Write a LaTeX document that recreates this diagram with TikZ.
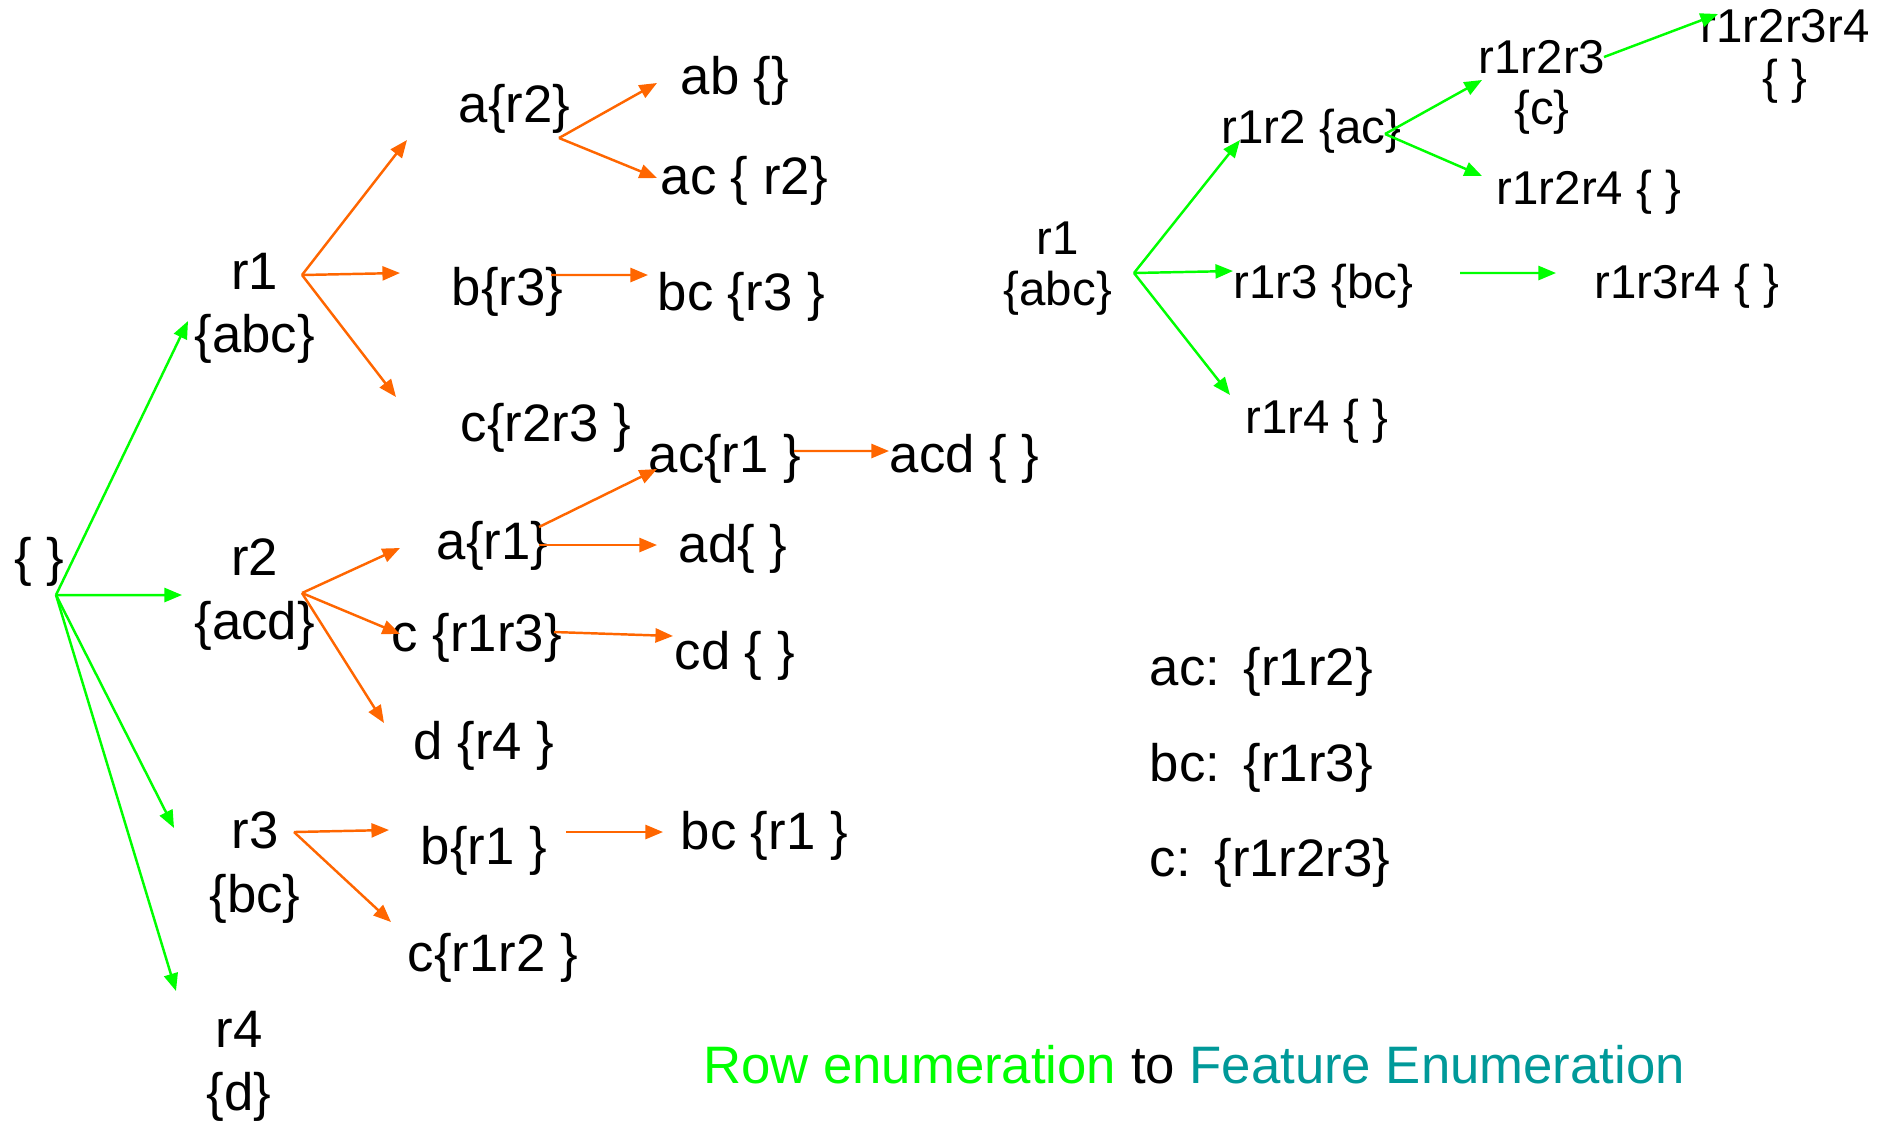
\documentclass[tikz,border=0pt]{standalone}
\usepackage{fontspec}
\setmainfont{Liberation Sans}
\usepackage{xcolor}
\usepackage{tikz}
\usetikzlibrary{arrows.meta}
\definecolor{rowgreen}{HTML}{00FF00}
\definecolor{featorange}{HTML}{FF6600}
\definecolor{featteal}{HTML}{009999}

\begin{document}
\begin{tikzpicture}[
  lset/.style={
    anchor=west,
    inner sep=0pt,
    yshift=-0.035cm,
    align=center,
    font=\fontsize{15}{18}\selectfont
  },
  rset/.style={
    lset,
    font=\fontsize{13.5}{16.5}\selectfont
  },
  garrow/.style={
    -{Triangle[length=5pt,width=4pt]},
    line width=0.7pt,
    draw=rowgreen
  },
  oarrow/.style={
    -{Triangle[length=5pt,width=4pt]},
    line width=0.7pt,
    draw=featorange
  }
]
\useasboundingbox (0,0) rectangle (18.77,-11.22);

% Row enumeration tree on the left
\node[lset] (root) at (0.14,-5.58) {\{ \}};
\node[lset] (lr1) at (1.94,-3.05) {r1\\\{abc\}};
\node[lset] (lr2) at (1.94,-5.91) {r2\\\{acd\}};
\node[lset] (lr3) at (2.09,-8.64) {r3\\\{bc\}};
\node[lset] (lr4) at (2.06,-10.63) {r4\\\{d\}};

% Feature sets under r1
\node[lset] (ar2) at (4.58,-1.05) {a\{r2\}};
\node[lset] (br3) at (4.51,-2.88) {b\{r3\}};
\node[lset] (cr23) at (4.60,-4.24) {c\{r2r3 \}};
\node[lset] (ab) at (6.80,-0.77) {ab \{\}};
\node[lset] (acr2) at (6.60,-1.77) {ac \{ r2\}};
\node[lset] (bcr3) at (6.57,-2.93) {bc \{r3 \}};

% Feature sets under r2
\node[lset] (ar1) at (4.36,-5.42) {a\{r1\}};
\node[lset] (cr13) at (3.91,-6.34) {c \{r1r3\}};
\node[lset] (dr4) at (4.13,-7.42) {d \{r4 \}};
\node[lset] (acr1) at (6.48,-4.55) {ac\{r1 \}};
\node[lset] (acd) at (8.89,-4.55) {acd \{ \}};
\node[lset] (ad) at (6.78,-5.45) {ad\{ \}};
\node[lset] (cd) at (6.74,-6.52) {cd \{ \}};

% Feature sets under r3
\node[lset] (br1) at (4.20,-8.47) {b\{r1 \}};
\node[lset] (cr12) at (4.07,-9.54) {c\{r1r2 \}};
\node[lset] (bcr1) at (6.80,-8.32) {bc \{r1 \}};

% Fan points
\coordinate (f0) at (0.56,-5.95);
\coordinate (f1) at (3.02,-2.75);
\coordinate (fa2) at (5.59,-1.38);
\coordinate (fb3) at (5.51,-2.75);
\coordinate (f2) at (3.02,-5.93);
\coordinate (fa1a) at (5.39,-5.27);
\coordinate (fa1b) at (5.39,-5.45);
\coordinate (fac1) at (7.94,-4.51);
\coordinate (fc13) at (5.54,-6.32);
\coordinate (f3) at (2.94,-8.32);
\coordinate (fb1) at (5.66,-8.32);

% Green row arrows
\draw[garrow] (f0) -- ([shift={(-0.06,-0.125)}]lr1.west);
\draw[garrow] (f0) -- ([shift={(-0.12,-0.005)}]lr2.west);
\draw[garrow] (f0) -- ([shift={(-0.35,0.395)}]lr3.west);
\draw[garrow] (f0) -- ([shift={(-0.30,0.755)}]lr4.west);

% Orange feature arrows
\draw[oarrow] (f1) -- ([shift={(-0.51,-0.315)}]ar2.west);
\draw[oarrow] (f1) -- ([shift={(-0.51,0.185)}]br3.west);
\draw[oarrow] (f1) -- ([shift={(-0.64,0.305)}]cr23.west);
\draw[oarrow] (fa2) -- ([shift={(-0.23,-0.025)}]ab.west);
\draw[oarrow] (fa2) -- ([shift={(-0.03,0.025)}]acr2.west);
\draw[oarrow] (fb3) -- ([shift={(-0.09,0.215)}]bcr3.west);
\draw[oarrow] (f2) -- ([shift={(-0.36,-0.025)}]ar1.west);
\draw[oarrow] (f2) -- ([shift={(0.09,0.035)}]cr13.west);
\draw[oarrow] (f2) -- ([shift={(-0.29,0.225)}]dr4.west);
\draw[oarrow] (fa1a) -- ([shift={(0.09,-0.105)}]acr1.west);
\draw[oarrow] (fa1b) -- ([shift={(-0.21,0.035)}]ad.west);
\draw[oarrow] (fac1) -- ([shift={(0,0.075)}]acd.west);
\draw[oarrow] (fc13) -- ([shift={(-0.01,0.195)}]cd.west);
\draw[oarrow] (f3) -- ([shift={(-0.31,0.205)}]br1.west);
\draw[oarrow] (f3) -- ([shift={(-0.16,0.355)}]cr12.west);
\draw[oarrow] (fb1) -- ([shift={(-0.17,0.035)}]bcr1.west);

% Row enumeration from r1 on the right
\node[rset] (rr1) at (10.03,-2.65) {r1\\[-2pt]\{abc\}};
\node[rset] (r12) at (12.21,-1.28) {r1r2 \{ac\}};
\node[rset] (r13) at (12.33,-2.83) {r1r3 \{bc\}};
\node[rset] (r14) at (12.45,-4.18) {r1r4 \{ \}};
\node[rset] (r123) at (14.78,-0.84) {r1r2r3\\[-2pt]\{c\}};
\node[rset] (r124) at (14.96,-1.89) {r1r2r4 \{ \}};
\node[rset] (r1234) at (17.00,-0.53) {r1r2r3r4\\[-2pt]\{ \}};
\node[rset] (r134) at (15.94,-2.83) {r1r3r4 \{ \}};

\coordinate (fr1) at (11.34,-2.73);
\coordinate (fr12) at (13.85,-1.34);
\coordinate (fr123) at (16.04,-0.57);
\coordinate (fr13) at (14.60,-2.73);

\draw[garrow] (fr1) -- ([shift={(0.19,-0.085)}]r12.west);
\draw[garrow] (fr1) -- ([shift={(0,0.155)}]r13.west);
\draw[garrow] (fr1) -- ([shift={(-0.15,0.265)}]r14.west);
\draw[garrow] (fr12) -- ([shift={(0.04,0.075)}]r123.west);
\draw[garrow] (fr12) -- ([shift={(-0.14,0.165)}]r124.west);
\draw[garrow] (fr123) -- ([shift={(0.18,0.425)}]r1234.west);
\draw[garrow] (fr13) -- ([shift={(-0.38,0.135)}]r134.west);

% Closed feature sets
\node[lset] (sum1) at (11.49,-6.68) {ac:\hspace{0.45em}\{r1r2\}};
\node[lset] (sum2) at (11.49,-7.64) {bc:\hspace{0.45em}\{r1r3\}};
\node[lset] (sum3) at (11.49,-8.59) {c:\hspace{0.45em}\{r1r2r3\}};

\node[font=\fontsize{15}{18}\selectfont] (caption) at (11.94,-10.65)
  {\textcolor{rowgreen}{Row enumeration} to \textcolor{featteal}{Feature Enumeration}};
\end{tikzpicture}
\end{document}
